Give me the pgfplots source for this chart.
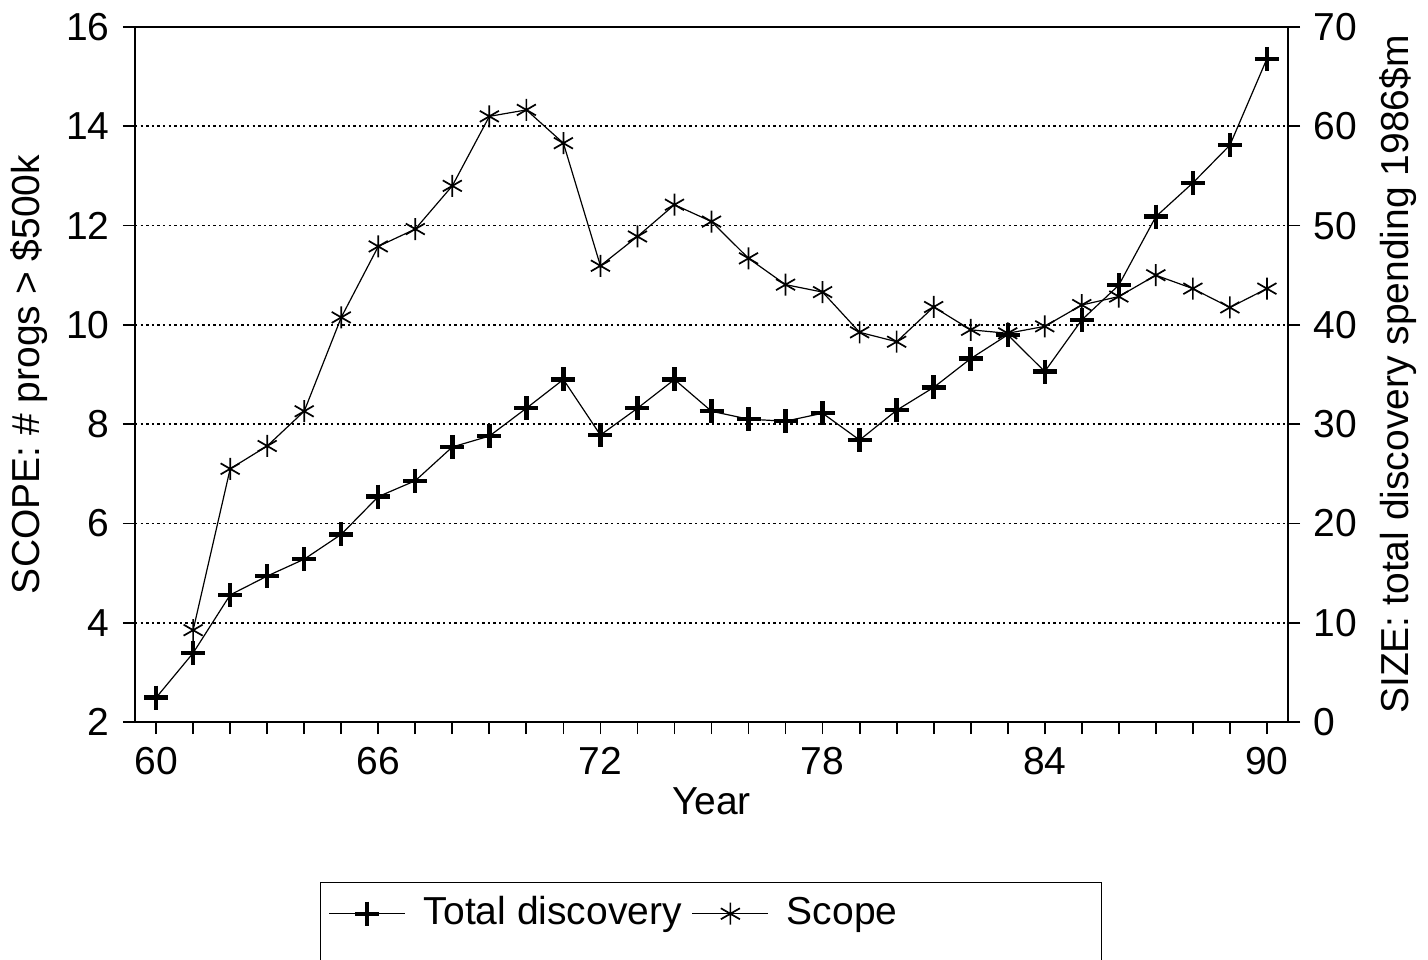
\documentclass[border=0pt]{standalone}
\usepackage{pgfplots}
\pgfplotsset{compat=1.18}
\usepackage{fontspec}
\setmainfont{Liberation Sans}
\begin{document}
\fontsize{19.5}{23}\selectfont
\begin{tikzpicture}[font=\fontsize{19.5}{23}\selectfont]
\pgfplotsset{
  base/.style={
    scale only axis, width=576.5pt, height=347.5pt,
    at={(0,0)}, anchor=south west,
    xmin=59.43, xmax=90.57,
    /pgf/number format/assume math mode=true,
    axis line style={line width=0.9pt},
    tick style={black, line width=0.9pt},
    major tick length=6pt, minor tick length=6pt,
    tick align=outside,
    clip=false,
  },
}
\begin{axis}[base,
  ymin=2, ymax=16, ytick={2,4,...,16},
  xtick={60,66,...,90}, minor xtick={61,...,89},
  xtick pos=bottom, ytick pos=left,
  ymajorgrids,
  grid style={black, line width=0.8pt, dash pattern=on 1.2pt off 1.6pt},
  xlabel={Year}, ylabel={SCOPE: \# progs > \$500k},
  xlabel shift=-7pt, ylabel shift=-4pt,
]
\addplot[black, line width=0.6pt, mark=asterisk, mark size=5.5pt, mark options={line width=0.85pt}] coordinates {
(61,3.85) (62,7.10) (63,7.56) (64,8.26) (65,10.15) (66,11.58) (67,11.93) (68,12.80)
(69,14.20) (70,14.33) (71,13.66) (72,11.19) (73,11.78) (74,12.42) (75,12.08)
(76,11.34) (77,10.81) (78,10.66) (79,9.85) (80,9.66) (81,10.36) (82,9.90)
(83,9.83) (84,9.97) (85,10.40) (86,10.57) (87,11.00) (88,10.73) (89,10.35) (90,10.73)
};
\end{axis}
\begin{axis}[base,
  ymin=0, ymax=70, ytick={0,10,...,70},
  axis x line=none, axis y line*=right,
  ylabel={SIZE: total discovery spending 1986\$m},
  ylabel shift=-2pt,
  legend style={at={(rel axis cs:0.1604,-0.2302)}, anchor=north west,
    draw=black, line width=0.7pt, legend columns=2, inner ysep=5pt, inner xsep=4pt,
    font=\fontsize{19.5}{23}\selectfont,
    /tikz/every odd column/.append style={column sep=7pt},
    /tikz/every even column/.append style={column sep=3pt}},
  legend cell align=left,
  legend image code/.code={\draw[mark repeat=2, mark phase=2] plot coordinates {(0pt,0pt) (19pt,0pt) (38pt,0pt)};},
]
\addplot[black, line width=0.6pt, mark=+, mark size=6pt, mark options={line width=2.2pt}] coordinates {
(60,2.45) (61,6.95) (62,12.8) (63,14.7) (64,16.4) (65,18.9) (66,22.7) (67,24.3)
(68,27.7) (69,28.8) (70,31.6) (71,34.5) (72,28.9) (73,31.6) (74,34.5) (75,31.3)
(76,30.5) (77,30.3) (78,31.1) (79,28.4) (80,31.4) (81,33.7) (82,36.6) (83,39.0)
(84,35.3) (85,40.5) (86,44.0) (87,50.9) (88,54.3) (89,58.1) (90,66.8)
};
\addlegendentry{Total discovery}
\addlegendimage{black, line width=0.6pt, mark=asterisk, mark size=5.5pt, mark options={line width=0.85pt}}
\addlegendentry{Scope\hspace*{96pt}}
\addlegendimage{empty legend}\addlegendentry{\strut}
\addlegendimage{empty legend}\addlegendentry{\strut}
\end{axis}
\pgfresetboundingbox
\path (-67.5pt,-118.5pt) rectangle (646.5pt,361pt);
\end{tikzpicture}
\end{document}
